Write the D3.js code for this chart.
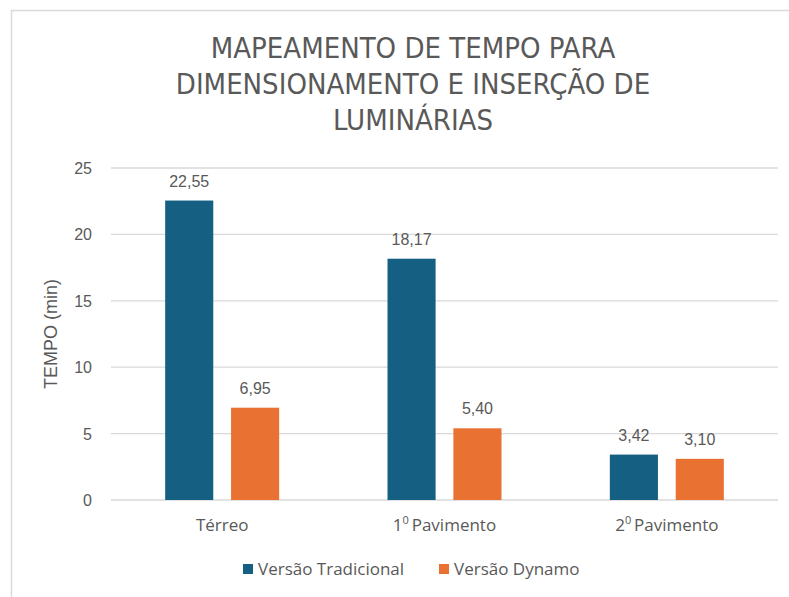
<!DOCTYPE html>
<html>
<head>
<meta charset="utf-8">
<script src="https://cdn.jsdelivr.net/npm/d3@7"></script>
<style>
  body { margin: 0; background: #fff; }
  text { font-family: "Liberation Sans", Arial, sans-serif; fill: #595959; }
</style>
</head>
<body>
<svg id="chart"></svg>
<script>
var categories = ["Térreo", "1º Pavimento", "2º Pavimento"];
var seriesNames = ["Versão Tradicional", "Versão Dynamo"];
var tradicional = [22.55, 18.17, 3.42];
var dynamo = [6.95, 5.40, 3.10];
var yTicks = [0, 5, 10, 15, 20, 25];
var colors = ["#156082", "#E97132"];

var width = 789, height = 597;
var svg = d3.select("#chart").attr("width", width).attr("height", height);

// chart frame (only top and left visible in the crop)
svg.append("path")
  .attr("d", "M11.5,597 V10.5 H789")
  .attr("fill", "none")
  .attr("stroke", "#d9d9d9")
  .attr("stroke-width", 1.5);

var plotLeft = 111, plotRight = 778, plotTop = 168, plotBottom = 500;

var x = d3.scaleBand().domain(categories).range([plotLeft, plotRight]);
var xInner = d3.scaleBand().domain(seriesNames).range([-57, 57]).paddingInner(0.27);
var y = d3.scaleLinear().domain([0, 25]).range([plotBottom, plotTop]);

// gridlines
svg.append("g")
  .selectAll("line")
  .data(yTicks)
  .enter().append("line")
    .attr("x1", plotLeft)
    .attr("x2", plotRight)
    .attr("y1", d => y(d))
    .attr("y2", d => y(d))
    .attr("stroke", "#d9d9d9")
    .attr("stroke-width", 1.3);

// y tick labels
svg.append("g")
  .selectAll("text")
  .data(yTicks)
  .enter().append("text")
    .attr("x", 92)
    .attr("y", d => y(d) + 6)
    .attr("text-anchor", "end")
    .style("font-size", "16px")
    .text(d => d);

var rows = categories.map((c, i) => ({cat: c, values: [tradicional[i], dynamo[i]]}));

var group = svg.selectAll(".grp")
  .data(rows)
  .enter().append("g")
    .attr("class", "grp")
    .attr("transform", d => "translate(" + (x(d.cat) + x.bandwidth() / 2) + ",0)");

group.selectAll("rect")
  .data(d => d.values.map((v, j) => ({name: seriesNames[j], value: v, j: j})))
  .enter().append("rect")
    .attr("x", d => xInner(d.name))
    .attr("width", xInner.bandwidth())
    .attr("y", d => y(d.value))
    .attr("height", d => plotBottom - y(d.value))
    .attr("fill", d => colors[d.j]);

group.selectAll(".lbl")
  .data(d => d.values.map((v, j) => ({name: seriesNames[j], value: v, j: j})))
  .enter().append("text")
    .attr("class", "lbl")
    .attr("x", d => xInner(d.name) + xInner.bandwidth() / 2)
    .attr("y", d => y(d.value) - 14)
    .attr("text-anchor", "middle")
    .style("font-size", "16px")
    .text(d => d3.format(".2f")(d.value).replace(".", ","));

// category labels with superscript o
var catText = svg.append("g")
  .selectAll("text")
  .data(categories)
  .enter().append("text")
    .attr("x", d => x(d) + x.bandwidth() / 2)
    .attr("y", 531)
    .attr("text-anchor", "middle")
    .style("font-family", "'Open Sans', sans-serif")
    .style("font-size", "17px");

catText.each(function(d) {
  var t = d3.select(this);
  var m = d.match(/^(\d)º (.*)$/);
  if (m) {
    t.append("tspan").text(m[1]);
    t.append("tspan").attr("dy", -7).style("font-size", "11px").text("0");
    t.append("tspan").attr("dy", 7).text("\u2009" + m[2]);
  } else {
    t.text(d);
  }
});

// y axis title
svg.append("text")
  .attr("transform", "translate(57," + ((plotTop + plotBottom) / 2) + ") rotate(-90)")
  .attr("text-anchor", "middle")
  .style("font-size", "18px")
  .text("TEMPO (min)");

// title
var titleLines = ["MAPEAMENTO DE TEMPO PARA", "DIMENSIONAMENTO E INSERÇÃO DE", "LUMINÁRIAS"];
svg.append("g")
  .selectAll("text")
  .data(titleLines)
  .enter().append("text")
    .attr("x", 413)
    .attr("y", (d, i) => 58 + i * 36)
    .attr("text-anchor", "middle")
    .style("font-family", "'DejaVu Sans Condensed', sans-serif")
    .style("font-stretch", "condensed")
    .style("font-size", "29px")
    .text(d => d);

// legend
var legendX = [243, 439];
var legend = svg.append("g")
  .selectAll("g")
  .data(seriesNames)
  .enter().append("g")
    .attr("transform", (d, i) => "translate(" + legendX[i] + ",564)");

legend.append("rect")
  .attr("width", 10)
  .attr("height", 10)
  .attr("fill", (d, i) => colors[i]);

legend.append("text")
  .attr("x", 15)
  .attr("y", 11)
  .style("font-family", "'Open Sans', sans-serif")
  .style("font-size", "17px")
  .text(d => d);
</script>
</body>
</html>
